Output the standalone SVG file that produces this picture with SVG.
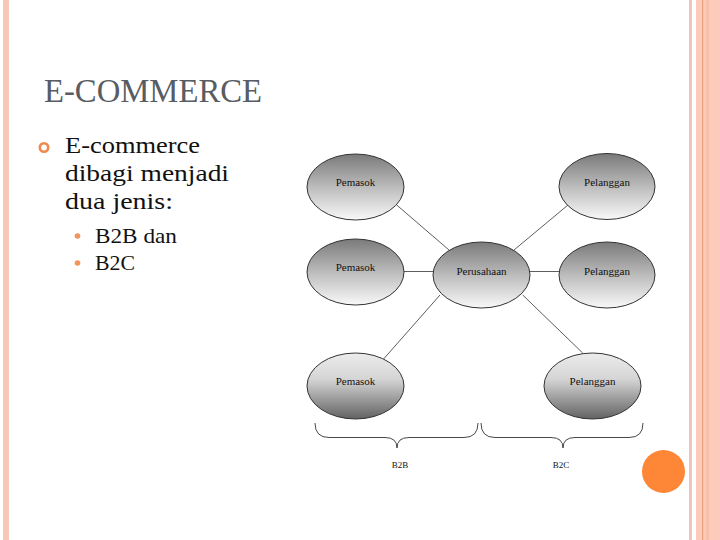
<svg xmlns="http://www.w3.org/2000/svg" width="720" height="540" viewBox="0 0 720 540">
<defs>
<linearGradient id="gTop" x1="0" y1="0" x2="0" y2="1">
<stop offset="0" stop-color="#7a7a7a"/>
<stop offset="0.55" stop-color="#c2c2c2"/>
<stop offset="1" stop-color="#f8f8f8"/>
</linearGradient>
<linearGradient id="gBot" x1="0" y1="0" x2="0" y2="1">
<stop offset="0" stop-color="#ececec"/>
<stop offset="0.4" stop-color="#d4d4d4"/>
<stop offset="1" stop-color="#626262"/>
</linearGradient>
<style>
.title{font-family:"Liberation Serif",serif;font-size:33px;fill:#585c63}
.body{font-family:"Liberation Serif",serif;font-size:23px;fill:#111}
.sub{font-family:"Liberation Serif",serif;font-size:21px;fill:#111}
.node ellipse{stroke:#333;stroke-width:1}
.node text{font-family:"Liberation Serif",serif;font-size:11px;fill:#111;text-anchor:middle}
.conn line{stroke:#333;stroke-width:0.8}
.brace{fill:none;stroke:#333;stroke-width:0.9}
.lbl{font-family:"Liberation Serif",serif;font-size:9px;fill:#111;text-anchor:middle}
</style>
</defs>
<rect width="720" height="540" fill="#ffffff"/>
<!-- borders -->
<rect x="3" y="0" width="6" height="540" fill="#f8c6b4"/>
<rect x="689" y="0" width="3" height="540" fill="#f3c4bb"/>
<rect x="696" y="0" width="24" height="540" fill="#fdcbb9"/>
<rect x="702" y="0" width="1.2" height="540" fill="#e9a080"/>
<rect x="706" y="0" width="3" height="540" fill="#f7bfac"/>
<circle cx="663.5" cy="471.5" r="21.5" fill="#fd8637"/>
<!-- text -->
<text class="title" x="44" y="102" textLength="218" lengthAdjust="spacingAndGlyphs">E-COMMERCE</text>
<circle cx="44" cy="147.5" r="4.2" fill="none" stroke="#f0894a" stroke-width="2.6"/>
<text class="body" x="65" y="153" textLength="135" lengthAdjust="spacingAndGlyphs">E-commerce</text>
<text class="body" x="65" y="181" textLength="164" lengthAdjust="spacingAndGlyphs">dibagi menjadi</text>
<text class="body" x="65" y="208.5" textLength="108" lengthAdjust="spacingAndGlyphs">dua jenis:</text>
<circle cx="77.5" cy="236" r="2.8" fill="#f2955a"/>
<text class="sub" x="95" y="243" textLength="82" lengthAdjust="spacingAndGlyphs">B2B dan</text>
<circle cx="77.5" cy="263" r="2.8" fill="#f2955a"/>
<text class="sub" x="95" y="270" textLength="40" lengthAdjust="spacingAndGlyphs">B2C</text>
<!-- connectors -->
<g class="conn">
<line x1="396.7" y1="205" x2="449" y2="250"/>
<line x1="568" y1="205" x2="514" y2="250"/>
<line x1="404" y1="271.5" x2="433" y2="271.5"/>
<line x1="530" y1="271.5" x2="559" y2="271.5"/>
<line x1="440" y1="295" x2="382.7" y2="360"/>
<line x1="522.7" y1="295" x2="582.7" y2="353"/>
</g>
<!-- nodes -->
<g id="pemasok1" class="node"><ellipse cx="355.5" cy="187" rx="48.5" ry="33" fill="url(#gTop)"/><text x="355.5" y="186">Pemasok</text></g>
<g id="pelanggan1" class="node"><ellipse cx="607" cy="186.5" rx="48" ry="33" fill="url(#gTop)"/><text x="607" y="186">Pelanggan</text></g>
<g id="pemasok2" class="node"><ellipse cx="355.5" cy="272" rx="48.5" ry="33" fill="url(#gTop)"/><text x="355.5" y="271">Pemasok</text></g>
<g id="perusahaan" class="node"><ellipse cx="481.5" cy="275" rx="48.5" ry="33" fill="url(#gTop)"/><text x="481.5" y="275">Perusahaan</text></g>
<g id="pelanggan2" class="node"><ellipse cx="607" cy="275" rx="48" ry="33" fill="url(#gTop)"/><text x="607" y="275">Pelanggan</text></g>
<g id="pemasok3" class="node"><ellipse cx="355.5" cy="386" rx="48.5" ry="33" fill="url(#gBot)"/><text x="355.5" y="385">Pemasok</text></g>
<g id="pelanggan3" class="node"><ellipse cx="592.5" cy="386" rx="48.5" ry="33" fill="url(#gBot)"/><text x="592.5" y="385">Pelanggan</text></g>
<!-- braces -->
<g id="braces">
<path class="brace" d="M315,423 Q315,437.5 329,437.5 L385,437.5 Q397,437.5 397,448 Q397,437.5 409,437.5 L464,437.5 Q478,437.5 478,423"/>
<path class="brace" d="M481,423 Q481,437.5 495,437.5 L551,437.5 Q563,437.5 563,448 Q563,437.5 575,437.5 L629,437.5 Q643,437.5 643,423"/>
<text class="lbl" x="400" y="468">B2B</text>
<text class="lbl" x="561" y="468">B2C</text>
</g>
</svg>
